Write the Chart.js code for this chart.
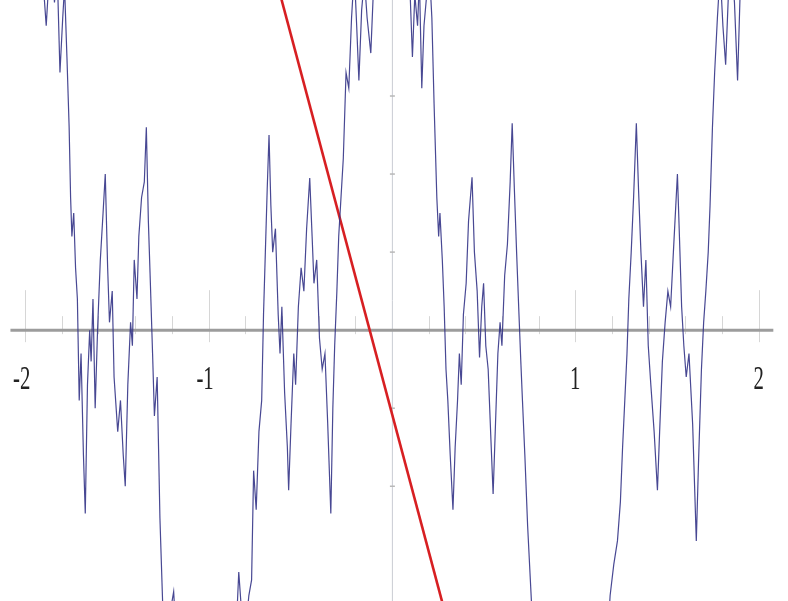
<!DOCTYPE html>
<html>
<head>
<meta charset="utf-8">
<script src="https://cdn.jsdelivr.net/npm/chart.js@4"></script>
<style>
  html, body { margin: 0; padding: 0; background: #fff; }
  #wrap { width: 788px; height: 601px; }
</style>
</head>
<body>
<div id="wrap"><canvas id="chart" width="788" height="601"></canvas></div>
<script>
// blue jagged curve
const curveX = [
  -2.000, -1.975, -1.955, -1.935, -1.915, -1.900, -1.885, -1.870, -1.855, -1.840,
  -1.825, -1.810, -1.795, -1.785, -1.772, -1.760, -1.752, -1.745, -1.735, -1.725,
  -1.715, -1.705, -1.695, -1.682, -1.672, -1.660, -1.648, -1.640, -1.630, -1.618,
  -1.605, -1.590, -1.575, -1.563, -1.550, -1.540, -1.525, -1.515, -1.495, -1.480,
  -1.465, -1.454, -1.440, -1.425, -1.415, -1.405, -1.390, -1.380, -1.365, -1.350,
  -1.339, -1.328, -1.317, -1.305, -1.295, -1.280, -1.265, -1.250, -1.235, -1.215,
  -1.190, -1.170, -1.120, -1.060, -1.000, -0.940, -0.880, -0.850, -0.835, -0.820,
  -0.800, -0.780, -0.765, -0.754, -0.740, -0.725, -0.710, -0.700, -0.690, -0.680,
  -0.670, -0.660, -0.650, -0.635, -0.620, -0.610, -0.600, -0.585, -0.570, -0.563,
  -0.550, -0.535, -0.525, -0.510, -0.495, -0.480, -0.465, -0.448, -0.435, -0.425,
  -0.410, -0.395, -0.380, -0.365, -0.350, -0.333, -0.322, -0.312, -0.300, -0.290,
  -0.280, -0.265, -0.250, -0.235, -0.220, -0.205, -0.192, -0.180, -0.165, -0.150,
  -0.135, -0.115, -0.100, -0.080, -0.060, -0.040, -0.020, 0.000, 0.020, 0.035,
  0.050, 0.065, 0.080, 0.095, 0.112, 0.125, 0.140, 0.150, 0.163, 0.175,
  0.190, 0.205, 0.218, 0.230, 0.245, 0.255, 0.262, 0.275, 0.285, 0.295,
  0.305, 0.318, 0.333, 0.345, 0.358, 0.368, 0.378, 0.390, 0.405, 0.418,
  0.437, 0.450, 0.465, 0.478, 0.490, 0.500, 0.512, 0.525, 0.540, 0.552,
  0.565, 0.578, 0.590, 0.600, 0.615, 0.630, 0.645, 0.656, 0.668, 0.680,
  0.693, 0.703, 0.712, 0.725, 0.740, 0.755, 0.770, 0.800, 0.850, 0.900,
  0.950, 1.000, 1.050, 1.100, 1.150, 1.175, 1.190, 1.210, 1.230, 1.246,
  1.258, 1.270, 1.282, 1.292, 1.305, 1.318, 1.333, 1.345, 1.358, 1.372,
  1.385, 1.398, 1.412, 1.430, 1.448, 1.460, 1.475, 1.490, 1.505, 1.520,
  1.535, 1.557, 1.568, 1.580, 1.592, 1.605, 1.620, 1.640, 1.660, 1.672,
  1.688, 1.700, 1.712, 1.725, 1.735, 1.748, 1.760, 1.775, 1.790, 1.805,
  1.820, 1.835, 1.850, 1.868, 1.885, 1.900, 1.920, 1.940, 1.960, 1.980,
  2.000
];
const curveY = [
  5.6, 5.0, 5.4, 4.6, 5.0, 4.4, 3.9, 4.5, 4.8, 4.2,
  4.6, 3.3, 4.0, 4.4, 3.5, 2.6, 1.7, 1.2, 1.5, 0.8,
  0.4, -0.9, -0.3, -1.6, -2.35, -0.7, 0.0, -0.4, 0.4, -1.0,
  0.0, 0.9, 1.5, 2.0, 0.8, 0.1, 0.5, -0.6, -1.3, -0.9,
  -1.6, -2.0, -0.7, 0.1, -0.2, 0.9, 0.4, 1.2, 1.7, 1.9,
  2.6, 1.4, 0.6, -0.3, -1.1, -0.6, -2.4, -3.5, -4.0, -3.7,
  -3.35, -4.2, -5.0, -5.8, -6.2, -5.8, -5.0, -3.9, -3.1, -3.6,
  -3.9, -3.4, -3.2, -1.8, -2.3, -1.3, -0.9, 0.2, 1.0, 1.8,
  2.5, 1.6, 1.0, 1.3, 0.2, -0.3, 0.3, -0.8, -1.5, -2.05,
  -1.2, -0.3, -0.7, 0.3, 0.8, 0.5, 1.3, 1.95, 1.2, 0.6,
  0.9, -0.1, -0.5, -0.3, -1.2, -2.35, -1.0, -0.2, 0.5, 1.2,
  1.6, 2.2, 3.3, 3.1, 4.0, 4.6, 3.9, 3.2, 4.1, 4.5,
  4.0, 3.55, 4.4, 4.8, 4.5, 5.2, 4.9, 5.6, 5.0, 5.3,
  4.6, 4.9, 4.4, 4.6, 3.5, 4.3, 3.9, 4.5, 3.1, 3.9,
  4.3, 4.6, 4.0, 2.9, 1.7, 1.2, 1.5, 0.9, 0.3, -0.5,
  -0.9, -1.6, -2.3, -1.5, -0.9, -0.3, -0.7, 0.2, 0.6, 1.4,
  1.96, 1.0, 0.5, -0.35, 0.3, 0.6, -0.2, -0.5, -1.4, -2.1,
  -1.2, -0.3, 0.1, -0.2, 0.7, 1.1, 1.9, 2.65, 1.8, 1.0,
  0.2, -0.4, -0.9, -1.6, -2.5, -3.2, -3.9, -4.5, -5.2, -5.9,
  -6.2, -6.5, -6.2, -5.6, -4.6, -4.0, -3.4, -3.0, -2.7, -2.2,
  -1.5, -0.9, -0.3, 0.4, 1.0, 1.7, 2.65, 1.8, 1.0, 0.3,
  0.9, -0.2, -0.7, -1.3, -2.05, -1.3, -0.4, 0.1, 0.5, 0.3,
  1.0, 2.0, 1.2, 0.3, -0.2, -0.6, -0.3, -1.2, -2.7, -1.7,
  -0.5, 0.1, 0.5, 1.0, 1.6, 2.6, 3.3, 4.0, 4.6, 3.9,
  3.4, 4.3, 4.8, 4.2, 3.2, 4.4, 5.0, 4.6, 5.2, 4.9,
  5.6
];

// straight red line, two end points
const lineX = [-0.70, 0.40];
const lineY = [5.10, -4.59];

const xTickLabels = [-2, -1, 1, 2];
const yTickValues = [-2, -1, 1, 2, 3];

const X_MIN = -2.137, X_MAX = 2.16;
const Y_MIN = -3.47, Y_MAX = 4.23;

// axes drawn at the origin, like a plotter
const originAxes = {
  id: "originAxes",
  beforeDatasetsDraw(chart) {
    const { ctx, scales: { x, y } } = chart;
    const x0 = x.getPixelForValue(0);
    const y0 = y.getPixelForValue(0);
    ctx.save();

    // y axis
    ctx.strokeStyle = "#c9ccd3";
    ctx.lineWidth = 1;
    ctx.beginPath();
    ctx.moveTo(x0 + 0.5, 0);
    ctx.lineTo(x0 + 0.5, chart.height);
    ctx.stroke();

    // y ticks (small marks)
    ctx.strokeStyle = "#b8b8b8";
    ctx.lineWidth = 1.5;
    yTickValues.forEach((v) => {
      const py = y.getPixelForValue(v);
      ctx.beginPath();
      ctx.moveTo(x0 - 2, py);
      ctx.lineTo(x0 + 3, py);
      ctx.stroke();
    });

    // x ticks every 0.2
    ctx.strokeStyle = "#d6d6d6";
    ctx.lineWidth = 1;
    for (let i = -10; i <= 10; i++) {
      if (i === 0) continue;
      const px = Math.round(x.getPixelForValue(i / 5)) + 0.5;
      const major = i % 5 === 0;
      ctx.beginPath();
      ctx.moveTo(px, y0 - (major ? 40 : 14));
      ctx.lineTo(px, y0 + (major ? 12 : 4));
      ctx.stroke();
    }

    // x axis
    ctx.strokeStyle = "#9c9c9c";
    ctx.lineWidth = 3;
    ctx.beginPath();
    ctx.moveTo(x.getPixelForValue(-2.08), y0);
    ctx.lineTo(x.getPixelForValue(2.08), y0);
    ctx.stroke();

    // x tick labels
    ctx.fillStyle = "#222";
    ctx.font = '26px "Liberation Serif", serif';
    ctx.textBaseline = "middle";
    xTickLabels.forEach((v) => {
      const px = x.getPixelForValue(v);
      const digit = String(Math.abs(v));
      const w = ctx.measureText(digit).width;
      ctx.save();
      ctx.translate(px, y0 + 50);
      ctx.scale(0.8, 1.3);
      ctx.textAlign = "right";
      ctx.fillText(v < 0 ? "-" + digit : digit, w / 2, 0);
      ctx.restore();
    });

    ctx.restore();
  }
};

const ctx = document.getElementById("chart").getContext("2d");

new Chart(ctx, {
  type: "line",
  data: {
    datasets: [
      {
        label: "curve",
        data: curveX.map((v, i) => ({ x: v, y: curveY[i] })),
        borderColor: "rgba(52, 52, 135, 0.9)",
        borderWidth: 1.2,
        pointRadius: 0,
        tension: 0,
      },
      {
        label: "line",
        data: lineX.map((v, i) => ({ x: v, y: lineY[i] })),
        borderColor: "#d71f22",
        borderWidth: 2.6,
        pointRadius: 0,
        tension: 0,
      },
    ],
  },
  options: {
    responsive: false,
    animation: false,
    layout: { padding: 0 },
    plugins: {
      legend: { display: false },
      tooltip: { enabled: false },
    },
    scales: {
      x: { type: "linear", min: X_MIN, max: X_MAX, display: false },
      y: { type: "linear", min: Y_MIN, max: Y_MAX, display: false },
    },
  },
  plugins: [originAxes],
});
</script>
</body>
</html>
